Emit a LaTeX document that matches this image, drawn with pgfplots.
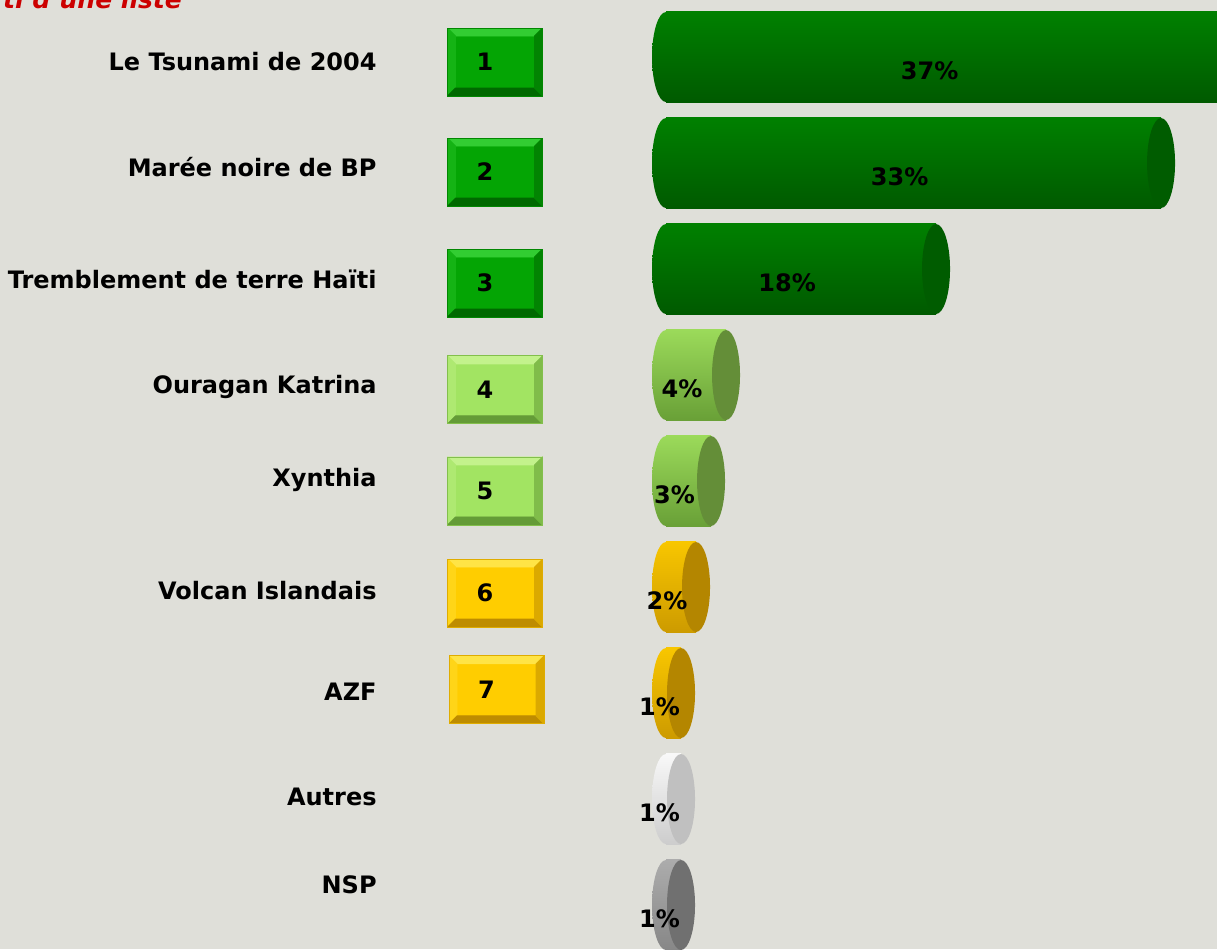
\documentclass[border=0pt]{standalone}
\usepackage{fontspec}
\setmainfont{DejaVu Sans}
\usepackage{pgfplots}
\pgfplotsset{compat=1.18}
\usepackage{pgfplotstable}
\usetikzlibrary{shapes.geometric}

% 1 px of the reference = 0.5pt
\definecolor{bg}{RGB}{223,223,217}
\definecolor{titlered}{RGB}{204,0,0}
\definecolor{dgtop}{RGB}{0,128,0}\definecolor{dgmid}{RGB}{12,148,12}\definecolor{dgbot}{RGB}{0,90,0}\definecolor{dgcap}{RGB}{0,92,0}
\definecolor{lgtop}{RGB}{155,218,90}\definecolor{lgmid}{RGB}{168,232,102}\definecolor{lgbot}{RGB}{105,160,55}\definecolor{lgcap}{RGB}{100,142,56}
\definecolor{yltop}{RGB}{248,198,0}\definecolor{ylmid}{RGB}{255,214,0}\definecolor{ylbot}{RGB}{205,155,0}\definecolor{ylcap}{RGB}{180,134,0}
\definecolor{wttop}{RGB}{248,248,248}\definecolor{wtmid}{RGB}{255,255,255}\definecolor{wtbot}{RGB}{205,205,205}\definecolor{wtcap}{RGB}{192,192,192}
\definecolor{gytop}{RGB}{172,172,172}\definecolor{gymid}{RGB}{190,190,190}\definecolor{gybot}{RGB}{135,135,135}\definecolor{gycap}{RGB}{112,112,112}
\definecolor{bxdg}{RGB}{4,165,4}\definecolor{bxdgl}{RGB}{50,205,50}\definecolor{bxdgd}{RGB}{0,105,0}
\definecolor{bxlg}{RGB}{162,228,98}\definecolor{bxlgl}{RGB}{195,242,140}\definecolor{bxlgd}{RGB}{100,155,55}
\definecolor{bxyl}{RGB}{255,205,0}\definecolor{bxyll}{RGB}{255,228,70}\definecolor{bxyld}{RGB}{190,140,0}

\tikzset{
 rbox/.style={anchor=center,minimum width=47.5pt,minimum height=34pt,inner sep=0pt,font=\bfseries\fontsize{12}{14}\selectfont},
 bevel/.style n args={3}{fill=#1,draw=#3!50!#1,path picture={
 \fill[#2] (path picture bounding box.north west) -- (path picture bounding box.north east)
  -- ([xshift=-4pt,yshift=-4pt]path picture bounding box.north east) -- ([xshift=4pt,yshift=-4pt]path picture bounding box.north west) -- cycle;
 \fill[#2!35!#1] (path picture bounding box.north west) -- ([xshift=4pt,yshift=-4pt]path picture bounding box.north west)
  -- ([xshift=4pt,yshift=4pt]path picture bounding box.south west) -- (path picture bounding box.south west) -- cycle;
 \fill[#3] (path picture bounding box.south west) -- (path picture bounding box.south east)
  -- ([xshift=-4pt,yshift=4pt]path picture bounding box.south east) -- ([xshift=4pt,yshift=4pt]path picture bounding box.south west) -- cycle;
 \fill[#3!55!#1] (path picture bounding box.north east) -- (path picture bounding box.south east)
  -- ([xshift=-4pt,yshift=4pt]path picture bounding box.south east) -- ([xshift=-4pt,yshift=-4pt]path picture bounding box.north east) -- cycle;
}}}

\pgfplotstableread{
i v
1 37
2 33
3 18
4 4
5 3
6 2
7 1
8 1
9 1
}\data

% one cylinder: value, row, colour prefix
\newcommand\cyl[3]{%
\addplot[mark=none,nodes near coords={},every node near coord/.style={anchor=center,ellipse,inner sep=0pt,
 minimum width=14pt,minimum height=45pt,top color=#3top,middle color=#3mid,bottom color=#3bot}] coordinates {(0,#2)};
\addplot[xbar,bar shift=0pt,bar width=0.85,draw=none,top color=#3top,middle color=#3mid,bottom color=#3bot] coordinates {(#1,#2)};
\addplot[mark=none,nodes near coords={},every node near coord/.style={anchor=center,ellipse,inner sep=0pt,
 minimum width=14pt,minimum height=45pt,fill=#3cap}] coordinates {(#1,#2)};
}

\begin{document}
\begin{tikzpicture}
\useasboundingbox (0,0) rectangle (608.5pt,474.5pt);
\clip (0,0) rectangle (608.5pt,474.5pt);
\begin{axis}[
at={(0,0)},anchor=south west,
scale only axis,width=608.5pt,height=474.5pt,
xmin=-44.4,xmax=36.73,
ymin=0.462,ymax=9.415,y dir=reverse,
axis background/.style={fill=bg},
axis line style={draw=none},major tick length=0pt,
xtick=\empty,
ytick={1.127,2.127,3.184,4.175,5.052,6.118,7.071,8.061,8.892},
yticklabels={Le Tsunami de 2004,Marée noire de BP,Tremblement de terre Haïti,Ouragan Katrina,Xynthia,Volcan Islandais,AZF,Autres,NSP},
yticklabel style={anchor=base east,inner sep=0pt,xshift=188.5pt,font=\bfseries\fontsize{12}{14}\selectfont},
]
\cyl{37}{1}{dg}
\cyl{33}{2}{dg}
\cyl{18}{3}{dg}
\cyl{4}{4}{lg}
\cyl{3}{5}{lg}
\cyl{2}{6}{yl}
\cyl{1}{7}{yl}
\cyl{1}{8}{wt}
\cyl{1}{9}{gy}

% percentage labels
\addplot[only marks,mark=none,point meta=explicit symbolic,
 nodes near coords={\pgfplotspointmeta\%},
 every node near coord/.style={anchor=center,font=\bfseries\fontsize{12}{14}\selectfont}]
 table[x expr=\thisrow{v}/2-0.93,y expr=\thisrow{i}+0.13,meta=v] \data;

% rank boxes
\addplot[only marks,mark=none,point meta=explicit symbolic,nodes near coords={\pgfplotspointmeta\hspace*{10pt}},
 every node near coord/.style={rbox,bevel={bxdg}{bxdgl}{bxdgd}}]
 coordinates {(-11.4,1.047)[1] (-11.4,2.085)[2] (-11.4,3.132)[3]};
\addplot[only marks,mark=none,point meta=explicit symbolic,nodes near coords={\pgfplotspointmeta\hspace*{10pt}},
 every node near coord/.style={rbox,bevel={bxlg}{bxlgl}{bxlgd}}]
 coordinates {(-11.4,4.14)[4] (-11.4,5.094)[5]};
\addplot[only marks,mark=none,point meta=explicit symbolic,nodes near coords={\pgfplotspointmeta\hspace*{10pt}},
 every node near coord/.style={rbox,bevel={bxyl}{bxyll}{bxyld}}]
 coordinates {(-11.4,6.057)[6] (-11.3,6.97)[7]};

\node[anchor=base west,xshift=-2pt,yshift=-4pt,text=titlered,font=\bfseries\itshape\fontsize{12.5}{14}\selectfont]
 at (rel axis cs:0,1) {ti d'une liste};
\end{axis}
\end{tikzpicture}
\end{document}
